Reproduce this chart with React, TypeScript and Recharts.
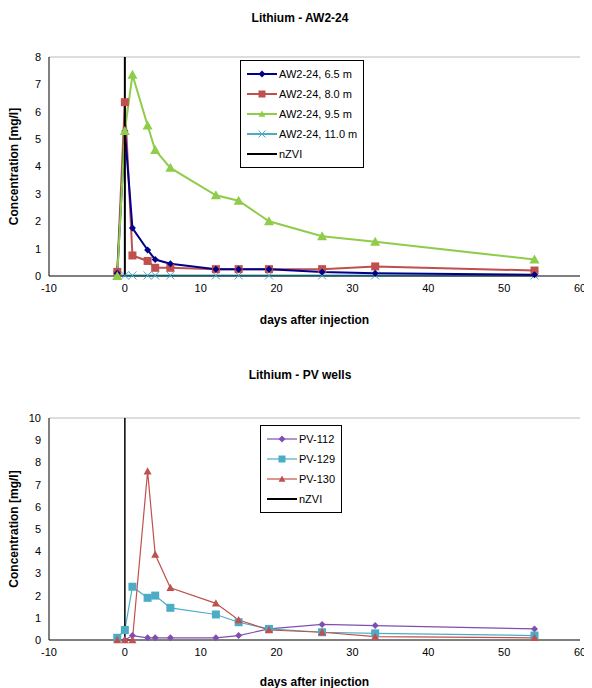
import React from 'react'
import { ComposedChart, Line, XAxis, YAxis, ReferenceLine } from 'recharts'

const DAYS = [-1, 0, 1, 3, 4, 6, 12, 15, 19, 26, 33, 54]
const AW_65 = [0.1, 5.3, 1.75, 0.95, 0.6, 0.45, 0.25, 0.25, 0.25, 0.15, 0.1, 0.05]
const AW_80 = [0.15, 6.35, 0.75, 0.55, 0.3, 0.3, 0.25, 0.25, 0.25, 0.25, 0.35, 0.2]
const AW_95 = [0, 5.3, 7.35, 5.5, 4.6, 3.95, 2.95, 2.75, 2.0, 1.45, 1.25, 0.6]
const AW_110 = [0.02, 0.02, 0.02, 0.02, 0.02, 0.02, 0.02, 0.02, 0.02, 0.02, 0.02, 0.02]

const PV_112 = [null, 0, 0.2, 0.1, 0.1, 0.1, 0.1, 0.2, 0.5, 0.7, 0.65, 0.5]
const PV_129 = [0.1, 0.45, 2.4, 1.9, 2.0, 1.45, 1.15, 0.8, 0.5, 0.35, 0.3, 0.2]
const PV_130 = [0, 0, 0, 7.6, 3.85, 2.35, 1.65, 0.9, 0.45, 0.35, 0.15, 0.1]

const X_TICKS = [-10, 0, 10, 20, 30, 40, 50, 60]
const Y1_TICKS = [0, 1, 2, 3, 4, 5, 6, 7, 8]
const Y2_TICKS = [0, 1, 2, 3, 4, 5, 6, 7, 8, 9, 10]

const topData = DAYS.map((d, i) => ({ d, a: AW_65[i], b: AW_80[i], c: AW_95[i], e: AW_110[i] }))
const botData = DAYS.map((d, i) => ({ d, a: PV_112[i], b: PV_129[i], c: PV_130[i] }))

const FONT = 'Arial, "Liberation Sans", sans-serif'

type Shape = 'diamond' | 'square' | 'triangle' | 'x'

function marker(shape: Shape, color: string, s: number) {
  return (p: any) => {
    const { cx, cy, index } = p
    if (cx == null || cy == null) return <g key={index} />
    if (shape === 'diamond')
      return <polygon key={index} points={`${cx},${cy - s} ${cx + s},${cy} ${cx},${cy + s} ${cx - s},${cy}`} fill={color} />
    if (shape === 'square')
      return <rect key={index} x={cx - s} y={cy - s} width={2 * s} height={2 * s} fill={color} />
    if (shape === 'triangle')
      return <polygon key={index} points={`${cx},${cy - s} ${cx + s},${cy + s * 0.8} ${cx - s},${cy + s * 0.8}`} fill={color} />
    return (
      <g key={index} stroke={color} strokeWidth={1}>
        <line x1={cx - s} y1={cy - s} x2={cx + s} y2={cy + s} />
        <line x1={cx - s} y1={cy + s} x2={cx + s} y2={cy - s} />
      </g>
    )
  }
}

function LegendBox({ items, style }: { items: { label: string; color: string; shape?: Shape; w?: number }[]; style: React.CSSProperties }) {
  return (
    <div style={{ position: 'absolute', border: '1px solid #000', background: '#fff', padding: '3px 6px', fontFamily: FONT, fontSize: 11, whiteSpace: 'nowrap', ...style }}>
      {items.map((it) => (
        <div key={it.label} style={{ display: 'flex', alignItems: 'center', height: 20 }}>
          <svg width={30} height={10}>
            <line x1={0} y1={5} x2={30} y2={5} stroke={it.color} strokeWidth={it.w ?? 2} />
            {it.shape && marker(it.shape, it.color, 3.5)({ cx: 15, cy: 5, index: 0 })}
          </svg>
          <span style={{ marginLeft: 2 }}>{it.label}</span>
        </div>
      ))}
    </div>
  )
}

const axisTick = { fontSize: 11, fill: '#000', fontFamily: FONT }
const yLabel = { value: 'Concentration [mg/l]', angle: -90, position: 'insideLeft', offset: 6, fontSize: 12, fontWeight: 'bold', fill: '#000', style: { textAnchor: 'middle' } }

export default function App() {
  return (
    <div style={{ width: 584, fontFamily: FONT }}>
      <div style={{ position: 'relative', width: 584, height: 340 }}>
        <div style={{ position: 'absolute', top: 3, left: 0, width: 584, textAlign: 'center', fontWeight: 'bold', fontSize: 12 }}>
          Lithium - AW2-24
        </div>
        <ComposedChart width={584} height={340} data={topData} margin={{ top: 49, right: 12, bottom: 42, left: 0 }}>
          <ReferenceLine y={8} stroke="#bbb" />
          <XAxis type="number" dataKey="d" domain={[-10, 60]} ticks={X_TICKS} tick={axisTick} tickLine={false} axisLine={{ stroke: '#000' }}
            label={{ value: 'days after injection', position: 'insideBottom', offset: -18, fontSize: 12, fontWeight: 'bold', fill: '#000' }} />
          <YAxis domain={[0, 8]} ticks={Y1_TICKS} tick={axisTick} width={41} axisLine={{ stroke: '#000' }} tickLine={false} label={yLabel} />
          <Line dataKey="e" stroke="#4bacc6" strokeWidth={2} dot={marker('x', '#4bacc6', 4)} isAnimationActive={false} />
          <Line dataKey="b" stroke="#c0504d" strokeWidth={2} dot={marker('square', '#c0504d', 4)} isAnimationActive={false} />
          <Line dataKey="a" stroke="#00008b" strokeWidth={2} dot={marker('diamond', '#00008b', 3.5)} isAnimationActive={false} />
          <Line dataKey="c" stroke="#8fcc4a" strokeWidth={2} dot={marker('triangle', '#8fcc4a', 5)} isAnimationActive={false} />
          <ReferenceLine x={0} stroke="#000" strokeWidth={2} />
        </ComposedChart>
        <LegendBox
          style={{ left: 232, top: 52 }}
          items={[
            { label: 'AW2-24, 6.5 m', color: '#00008b', shape: 'diamond' },
            { label: 'AW2-24, 8.0 m', color: '#c0504d', shape: 'square' },
            { label: 'AW2-24, 9.5 m', color: '#8fcc4a', shape: 'triangle' },
            { label: 'AW2-24, 11.0 m', color: '#4bacc6', shape: 'x' },
            { label: 'nZVI', color: '#000' },
          ]}
        />
      </div>
      <div style={{ position: 'relative', width: 584, height: 340 }}>
        <div style={{ position: 'absolute', top: 20, left: 0, width: 584, textAlign: 'center', fontWeight: 'bold', fontSize: 12 }}>
          Lithium - PV wells
        </div>
        <ComposedChart width={584} height={340} data={botData} margin={{ top: 70, right: 12, bottom: 18, left: 0 }}>
          <ReferenceLine y={10} stroke="#bbb" />
          <XAxis type="number" dataKey="d" domain={[-10, 60]} ticks={X_TICKS} tick={axisTick} tickLine={false} axisLine={{ stroke: '#000' }}
            label={{ value: 'days after injection', position: 'insideBottom', offset: -16, fontSize: 12, fontWeight: 'bold', fill: '#000' }} />
          <YAxis domain={[0, 10]} ticks={Y2_TICKS} tick={axisTick} width={41} axisLine={{ stroke: '#000' }} tickLine={false} label={yLabel} />
          <Line dataKey="a" stroke="#7f4fb0" strokeWidth={1.2} dot={marker('diamond', '#7f4fb0', 3.5)} isAnimationActive={false} />
          <Line dataKey="b" stroke="#4bacc6" strokeWidth={1.2} dot={marker('square', '#4bacc6', 4)} isAnimationActive={false} />
          <Line dataKey="c" stroke="#c0504d" strokeWidth={1.2} dot={marker('triangle', '#c0504d', 4)} isAnimationActive={false} />
          <ReferenceLine x={0} stroke="#000" strokeWidth={1.5} />
        </ComposedChart>
        <LegendBox
          style={{ left: 252, top: 77 }}
          items={[
            { label: 'PV-112', color: '#7f4fb0', shape: 'diamond', w: 1.2 },
            { label: 'PV-129', color: '#4bacc6', shape: 'square', w: 1.2 },
            { label: 'PV-130', color: '#c0504d', shape: 'triangle', w: 1.2 },
            { label: 'nZVI', color: '#000' },
          ]}
        />
      </div>
    </div>
  )
}
